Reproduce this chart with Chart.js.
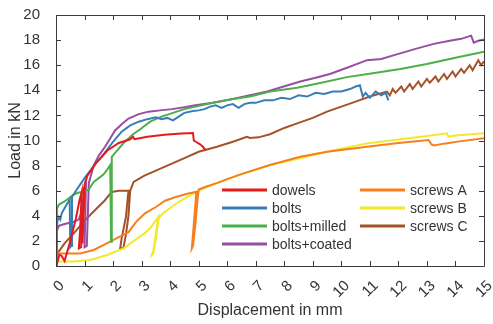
<!DOCTYPE html>
<html>
<head>
<meta charset="utf-8">
<script src="https://cdn.jsdelivr.net/npm/chart.js@4.4.1/dist/chart.umd.min.js"></script>
<style>
  html, body { margin: 0; padding: 0; background: #fff; }
  #wrap { width: 493px; height: 324px; }
</style>
</head>
<body>
<div id="wrap"><canvas id="myChart" width="493" height="324"></canvas></div>
<script>
'use strict';

// axis ticks
let xTicks = [0, 1, 2, 3, 4, 5, 6, 7, 8, 9, 10, 11, 12, 13, 14, 15];
let yTicks = [0, 2, 4, 6, 8, 10, 12, 14, 16, 18, 20];

// series names + colors
let seriesNames = ['dowels', 'bolts', 'bolts+milled', 'bolts+coated', 'screws A', 'screws B', 'screws C'];
let seriesColors = ['#e41a1c', '#377eb8', '#4daf4a', '#984ea3', '#f77f20', '#f2e92c', '#a5522a'];

// displacement in mm / load in kN
let dowelsX = [0, 0.05, 0.12, 0.2, 0.3, 0.5, 0.7, 0.82, 0.9, 0.85, 0.8, 0.88, 0.95, 0.98, 0.93, 1.0, 1.1, 1.4, 1.8, 2.2, 2.6, 2.7, 2.75, 3.2, 3.8, 4.4, 4.8, 4.83, 4.9, 5.05, 5.15, 5.25];
let dowelsY = [0, 0.3, 0.9, 0.8, 0.4, 2.0, 3.8, 5.2, 5.9, 3.0, 1.4, 1.5, 4.5, 6.3, 1.8, 6.5, 7.2, 8.2, 9.2, 9.8, 10.1, 10.3, 10.1, 10.3, 10.45, 10.55, 10.6, 10.0, 9.9, 9.7, 9.5, 9.2];

let boltsX = [0, 0.02, 0.05, 0.1, 0.15, 0.2, 0.3, 0.4, 0.48, 0.5, 0.53, 0.56, 0.7, 0.85, 1.0, 1.2, 1.4, 1.6, 1.8, 2.0, 2.3, 2.6, 2.9, 3.2, 3.5, 3.7, 3.9, 4.1, 4.3, 4.5, 4.8, 5.0, 5.2, 5.4, 5.6, 5.8, 6.0, 6.2, 6.4, 6.6, 6.8, 7.0, 7.3, 7.6, 7.9, 8.2, 8.5, 8.8, 9.1, 9.4, 9.7, 10.0, 10.3, 10.5, 10.65, 10.75, 10.85, 11.0, 11.2, 11.4, 11.55, 11.65];
let boltsY = [0, 2.6, 3.6, 3.9, 3.7, 4.2, 4.6, 5.0, 5.3, 1.5, 1.6, 5.5, 6.0, 6.5, 7.0, 7.6, 8.2, 8.7, 9.3, 9.9, 10.7, 11.2, 11.5, 11.7, 11.85, 11.7, 11.8, 11.6, 11.9, 12.2, 12.35, 12.4, 12.5, 12.7, 12.8, 12.6, 12.8, 12.9, 12.6, 12.9, 13.0, 13.0, 13.2, 13.2, 13.4, 13.3, 13.6, 13.5, 13.8, 13.7, 13.9, 13.9, 14.1, 14.3, 14.4, 13.5, 13.8, 13.4, 13.9, 13.6, 13.8, 13.2];

let milledX = [0, 0.02, 0.04, 0.1, 0.27, 0.45, 0.62, 0.8, 0.97, 1.15, 1.32, 1.5, 1.67, 1.8, 1.9, 1.93, 1.95, 1.96, 2.1, 2.37, 2.7, 2.95, 3.3, 3.7, 4.1, 4.5, 4.9, 5.5, 6.2, 6.8, 7.5, 8.45, 9.3, 10.2, 11.1, 12.07, 13.0, 14.0, 15.0];
let milledY = [0, 3.0, 4.6, 4.9, 5.1, 5.4, 5.7, 5.85, 5.9, 6.1, 6.7, 7.0, 7.3, 7.7, 8.05, 1.94, 2.0, 8.7, 9.1, 9.8, 10.5, 10.9, 11.5, 11.9, 12.2, 12.5, 12.7, 13.0, 13.3, 13.5, 13.9, 14.2, 14.6, 15.05, 15.35, 15.7, 16.1, 16.6, 17.08];

let coatedX = [0, 0.03, 0.1, 0.3, 0.6, 0.8, 0.92, 0.98, 1.05, 1.0, 1.08, 1.15, 1.32, 1.5, 1.72, 2.07, 2.3, 2.54, 2.9, 3.24, 3.65, 4.06, 4.5, 4.88, 5.5, 6.2, 6.8, 7.4, 7.98, 8.56, 9.1, 9.6, 10.2, 10.9, 11.4, 12.0, 12.6, 13.24, 13.8, 14.2, 14.47, 14.55, 14.64, 14.8, 15.0];
let coatedY = [0, 2.8, 3.2, 3.35, 3.5, 3.7, 4.5, 5.8, 6.4, 1.5, 1.6, 6.6, 8.0, 8.8, 9.5, 10.8, 11.3, 11.75, 12.1, 12.3, 12.4, 12.5, 12.65, 12.8, 13.0, 13.3, 13.6, 13.9, 14.3, 14.7, 15.0, 15.3, 15.8, 16.4, 16.5, 16.9, 17.3, 17.7, 17.95, 18.1, 18.3, 18.35, 17.8, 17.95, 18.06];

let screwsAX = [0, 0.02, 0.4, 0.85, 1.32, 1.9, 2.2, 2.54, 2.8, 3.12, 3.5, 3.82, 4.2, 4.6, 4.92, 4.86, 4.8, 4.76, 4.8, 4.88, 4.95, 5.0, 5.3, 5.64, 6.1, 6.57, 7.5, 8.56, 9.5, 10.9, 12.0, 13.06, 13.15, 13.24, 13.6, 14.2, 15.0];
let screwsAY = [0, 1.0, 1.0, 1.0, 1.28, 1.94, 2.3, 2.7, 3.5, 4.2, 4.7, 5.2, 5.5, 5.75, 5.92, 4.2, 2.5, 1.4, 1.6, 3.2, 5.0, 6.1, 6.35, 6.6, 7.0, 7.38, 8.05, 8.7, 9.1, 9.5, 9.8, 10.04, 9.7, 9.6, 9.75, 9.95, 10.17];

let screwsBX = [0, 0.02, 0.62, 1.2, 1.79, 2.37, 2.77, 3.1, 3.3, 3.59, 3.5, 3.42, 3.36, 3.41, 3.5, 3.6, 3.75, 4.23, 4.6, 5.05, 5.6, 6.22, 6.9, 7.5, 8.56, 9.7, 10.9, 12.07, 13.0, 13.7, 13.75, 14.0, 15.0];
let screwsBY = [0, 0.35, 0.35, 0.48, 0.88, 1.41, 2.07, 2.6, 3.0, 3.93, 2.6, 1.3, 0.88, 1.0, 2.2, 3.8, 4.2, 5.0, 5.5, 6.05, 6.6, 7.1, 7.6, 8.05, 8.58, 9.2, 9.77, 10.1, 10.35, 10.57, 10.3, 10.4, 10.57];

let screwsCX = [0, 0.05, 0.3, 0.62, 1.0, 1.37, 1.7, 1.95, 2.2, 2.54, 2.45, 2.3, 2.25, 2.36, 2.45, 2.54, 2.6, 2.72, 3.1, 3.5, 4.0, 4.5, 5.0, 5.64, 6.2, 6.69, 6.8, 7.1, 7.5, 8.0, 8.5, 9.0, 9.5, 10.0, 10.5, 11.0, 11.6, 11.7, 11.8, 11.9, 12.1, 12.2, 12.4, 12.5, 12.7, 12.8, 13.0, 13.1, 13.3, 13.4, 13.6, 13.7, 13.9, 14.0, 14.2, 14.3, 14.5, 14.6, 14.8, 14.9, 15.0];
let screwsCY = [0, 1.0, 1.8, 2.6, 3.6, 4.46, 5.2, 5.9, 6.0, 6.0, 3.9, 2.2, 1.41, 1.41, 2.5, 4.0, 6.0, 6.7, 7.2, 7.6, 8.1, 8.6, 9.1, 9.5, 9.9, 10.3, 10.2, 10.25, 10.5, 11.0, 11.4, 11.8, 12.3, 12.7, 13.1, 13.5, 13.9, 13.6, 14.1, 13.8, 14.3, 13.9, 14.5, 14.1, 14.7, 14.3, 14.9, 14.6, 15.1, 14.7, 15.3, 14.9, 15.5, 15.1, 15.7, 15.4, 16.0, 15.6, 16.4, 16.0, 16.3];

let allX = [dowelsX, boltsX, milledX, coatedX, screwsAX, screwsBX, screwsCX];
let allY = [dowelsY, boltsY, milledY, coatedY, screwsAY, screwsBY, screwsCY];

// zip x + y into points
function toPoints(xs, ys) {
    let pts = [];
    for (let i = 0; i < xs.length; i++) {
        pts.push({x: xs[i], y: ys[i]});
    }
    return pts;
}

let datasets = [];
for (let i = 0; i < seriesNames.length; i++) {
    datasets.push({
        label: seriesNames[i],
        data: toPoints(allX[i], allY[i]),
        borderColor: seriesColors[i],
        backgroundColor: seriesColors[i],
        borderWidth: 2,
        pointRadius: 0,
        showLine: true,
        tension: 0
    });
}

const textColor = '#333333';
const axisColor = '#3a3a3a';

// box around the plot with inward ticks, like matlab
const framePlugin = {
    id: 'frame',
    afterDatasetsDraw(chart) {
        let ctx = chart.ctx;
        let a = chart.chartArea;
        let xs = chart.scales.x;
        let ys = chart.scales.y;
        let len = 5;
        ctx.save();
        ctx.strokeStyle = axisColor;
        ctx.lineWidth = 1;
        ctx.beginPath();
        ctx.rect(Math.round(a.left) + 0.5, Math.round(a.top) + 0.5, Math.round(a.right - a.left), Math.round(a.bottom - a.top));
        for (let i = 0; i < xTicks.length; i++) {
            let px = Math.round(xs.getPixelForValue(xTicks[i])) + 0.5;
            ctx.moveTo(px, a.bottom);
            ctx.lineTo(px, a.bottom - len);
            ctx.moveTo(px, a.top);
            ctx.lineTo(px, a.top + len);
        }
        for (let i = 0; i < yTicks.length; i++) {
            let py = Math.round(ys.getPixelForValue(yTicks[i])) + 0.5;
            ctx.moveTo(a.left, py);
            ctx.lineTo(a.left + len, py);
            ctx.moveTo(a.right, py);
            ctx.lineTo(a.right - len, py);
        }
        ctx.stroke();
        ctx.restore();
    }
};

// legend inside the plot, two columns
const legendPlugin = {
    id: 'insideLegend',
    afterDraw(chart) {
        let ctx = chart.ctx;
        let cols = [[0, 1, 2, 3], [4, 5, 6]];
        let colX = [222, 360];
        let rowY0 = 190;
        let rowH = 18;
        ctx.save();
        ctx.font = '14px "Liberation Sans", Arial, sans-serif';
        ctx.textBaseline = 'middle';
        ctx.textAlign = 'left';
        for (let c = 0; c < cols.length; c++) {
            for (let r = 0; r < cols[c].length; r++) {
                let idx = cols[c][r];
                let y = rowY0 + r * rowH;
                ctx.strokeStyle = seriesColors[idx];
                ctx.lineWidth = 3;
                ctx.beginPath();
                ctx.moveTo(colX[c], y);
                ctx.lineTo(colX[c] + 45, y);
                ctx.stroke();
                ctx.fillStyle = textColor;
                ctx.fillText(seriesNames[idx], colX[c] + 50, y + 1);
            }
        }
        ctx.restore();
    }
};

const ctx = document.getElementById('myChart');

new Chart(ctx, {
    type: 'scatter',
    data: { datasets: datasets },
    options: {
        responsive: false,
        animation: false,
        events: [],
        layout: { padding: { top: 15, right: 9, left: 0, bottom: 0 } },
        plugins: {
            legend: { display: false },
            tooltip: { enabled: false }
        },
        scales: {
            x: {
                type: 'linear',
                min: 0,
                max: 15,
                afterFit(s) {
                    s.height = 58;
                    // rotated labels would push the plot in, dont want that
                    s.paddingLeft = 0;
                    s.paddingRight = 0;
                },
                afterBuildTicks(s) { s.ticks = xTicks.map(v => ({value: v})); },
                grid: { display: false },
                border: { display: false },
                ticks: {
                    minRotation: 45,
                    maxRotation: 45,
                    padding: 3,
                    labelOffset: 6,
                    color: textColor,
                    font: { family: '"Liberation Sans", Arial, sans-serif', size: 15 }
                },
                title: {
                    display: true,
                    text: 'Displacement in mm',
                    color: textColor,
                    padding: { top: 0, bottom: 4 },
                    font: { family: '"Liberation Sans", Arial, sans-serif', size: 16 }
                }
            },
            y: {
                type: 'linear',
                min: 0,
                max: 20,
                afterFit(s) {
                    s.width = 56;
                    s.paddingTop = 0;
                    s.paddingBottom = 0;
                },
                afterBuildTicks(s) { s.ticks = yTicks.map(v => ({value: v})); },
                grid: { display: false },
                border: { display: false },
                ticks: {
                    padding: 8,
                    color: textColor,
                    font: { family: '"Liberation Sans", Arial, sans-serif', size: 15 }
                },
                title: {
                    display: true,
                    text: 'Load in kN',
                    color: textColor,
                    padding: { top: 6, bottom: 0 },
                    font: { family: '"Liberation Sans", Arial, sans-serif', size: 16 }
                }
            }
        }
    },
    plugins: [framePlugin, legendPlugin]
});
</script>
</body>
</html>
